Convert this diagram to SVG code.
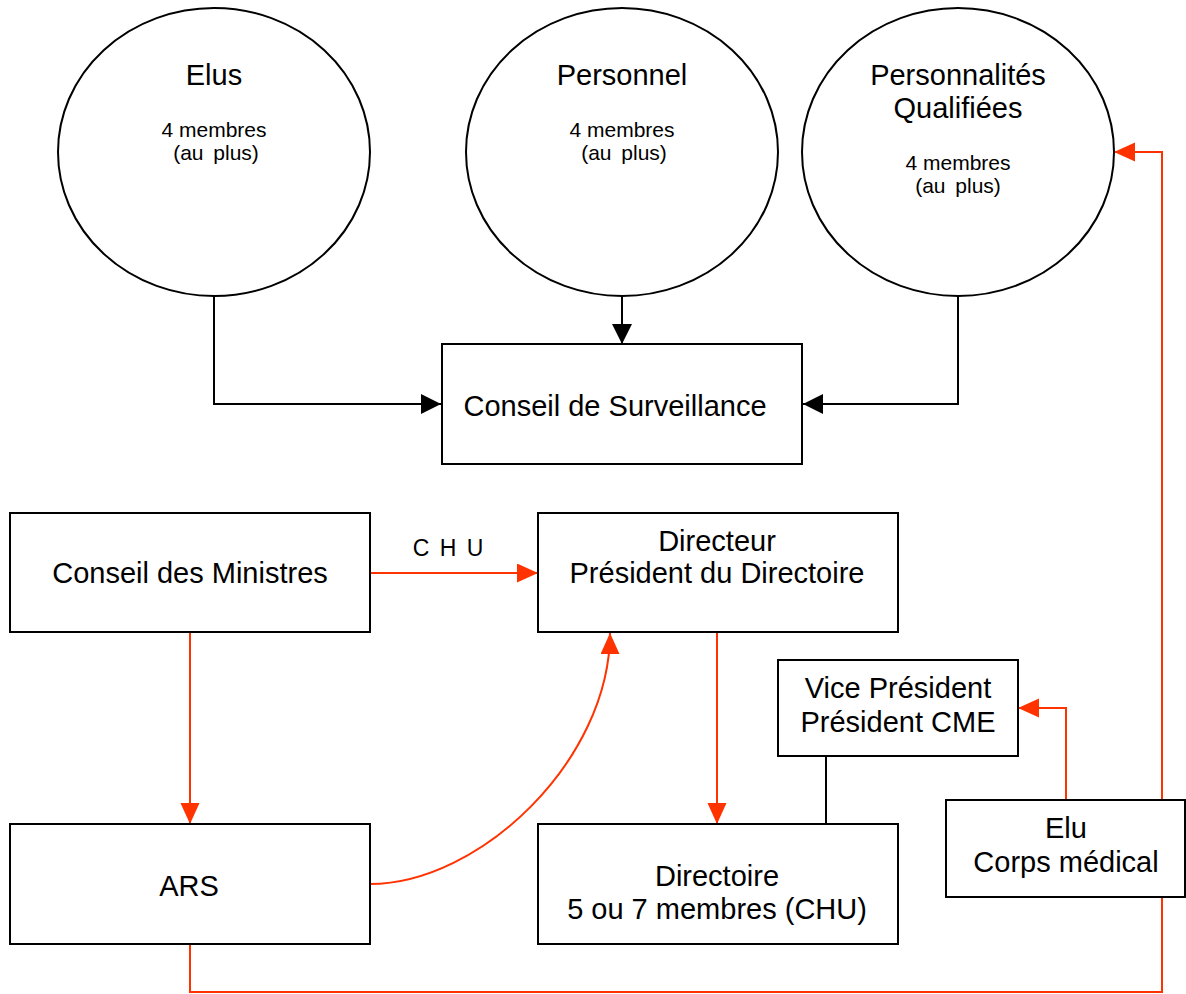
<svg xmlns="http://www.w3.org/2000/svg" width="1186" height="994" viewBox="0 0 1186 994">
<style>
.node{fill:#fff;stroke:#000;stroke-width:2}
.t{font-family:"Liberation Sans",Arial,sans-serif;font-size:29px;fill:#000;text-anchor:middle}
.s{font-family:"Liberation Sans",Arial,sans-serif;font-size:21px;fill:#000;text-anchor:middle}
.blk{fill:none;stroke:#000;stroke-width:2}
.red{fill:none;stroke:#ff3300;stroke-width:2}
</style>
<defs>
<marker id="ab" markerUnits="userSpaceOnUse" markerWidth="21" markerHeight="21" refX="20" refY="10" orient="auto">
<path d="M0,0 L20,10 L0,20 z" fill="#000"/>
</marker>
<marker id="ar" markerUnits="userSpaceOnUse" markerWidth="22" markerHeight="20" refX="21" refY="9.5" orient="auto">
<path d="M0,0 L21,9.5 L0,19 z" fill="#ff3300"/>
</marker>
</defs>
<rect width="1186" height="994" fill="#fff"/>
<g id="connectors">
<path class="blk" d="M214,296 V404 H441" marker-end="url(#ab)"/>
<path class="blk" d="M622,296 V344" marker-end="url(#ab)"/>
<path class="blk" d="M958,296 V404 H803" marker-end="url(#ab)"/>
<path class="blk" d="M826,756 V824"/>
<path class="red" d="M370,573 H538" marker-end="url(#ar)"/>
<path class="red" d="M190,632 V824" marker-end="url(#ar)"/>
<path class="red" d="M370,884 C480,884 610,760 610,633" marker-end="url(#ar)"/>
<path class="red" d="M717,632 V824" marker-end="url(#ar)"/>
<path class="red" d="M1066,800 V708 H1018" marker-end="url(#ar)"/>
<path class="red" d="M190,944 V992 H1162 V152 H1114" marker-end="url(#ar)"/>
<text class="s" x="449" y="556" style="font-size:23px;letter-spacing:2px">C H U</text>
</g>
<g id="elus">
<ellipse class="node" cx="214" cy="152" rx="156" ry="144"/>
<text class="t" x="214" y="85">Elus</text>
<text class="s" x="214" y="137">4 membres</text>
<text class="s" x="216" y="160" style="word-spacing:4px">(au plus)</text>
</g>
<g id="personnel">
<ellipse class="node" cx="622" cy="152" rx="156" ry="144"/>
<text class="t" x="622" y="85">Personnel</text>
<text class="s" x="622" y="137">4 membres</text>
<text class="s" x="624" y="160" style="word-spacing:4px">(au plus)</text>
</g>
<g id="personnalites">
<ellipse class="node" cx="958" cy="152" rx="156" ry="144"/>
<text class="t" x="958" y="85">Personnalités</text>
<text class="t" x="958" y="118">Qualifiées</text>
<text class="s" x="958" y="170">4 membres</text>
<text class="s" x="958" y="193" style="word-spacing:4px">(au plus)</text>
</g>
<g id="conseil-surveillance">
<rect class="node" x="442" y="344" width="360" height="120"/>
<text class="t" x="615" y="416">Conseil de Surveillance</text>
</g>
<g id="conseil-ministres">
<rect class="node" x="10" y="513" width="360" height="119"/>
<text class="t" x="190" y="583">Conseil des Ministres</text>
</g>
<g id="directeur">
<rect class="node" x="538" y="513" width="360" height="119"/>
<text class="t" x="717" y="551">Directeur</text>
<text class="t" x="717" y="583">Président du Directoire</text>
</g>
<g id="vice-president">
<rect class="node" x="778" y="660" width="240" height="96"/>
<text class="t" x="898" y="698">Vice Président</text>
<text class="t" x="898" y="732">Président CME</text>
</g>
<g id="elu-corps-medical">
<rect class="node" x="946" y="800" width="239" height="97"/>
<text class="t" x="1066" y="838">Elu</text>
<text class="t" x="1066" y="872">Corps médical</text>
</g>
<g id="ars">
<rect class="node" x="10" y="824" width="360" height="120"/>
<text class="t" x="189" y="896">ARS</text>
</g>
<g id="directoire">
<rect class="node" x="538" y="824" width="360" height="120"/>
<text class="t" x="717" y="886">Directoire</text>
<text class="t" x="717" y="919">5 ou 7 membres (CHU)</text>
</g>
</svg>
